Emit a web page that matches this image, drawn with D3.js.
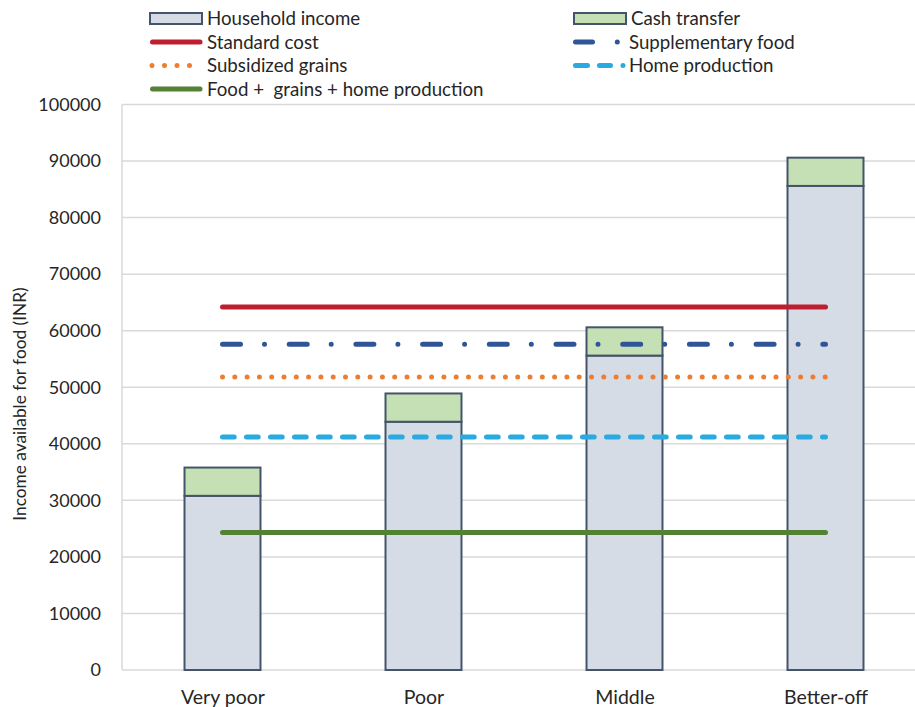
<!DOCTYPE html>
<html>
<head>
<meta charset="utf-8">
<script src="https://cdn.jsdelivr.net/npm/d3@7"></script>
<style>
  body { margin: 0; background: #fff; }
  svg { font-family: Lato, "Liberation Sans", sans-serif; }
  .tick text { fill: #262626; }
</style>
</head>
<body>
<svg id="chart" width="915" height="707"></svg>
<script>
// data
const categories = ["Very poor", "Poor", "Middle", "Better-off"];
const householdIncome = [30800, 43900, 55600, 85600];
const cashTransfer = [5000, 5000, 5000, 5000];

const standardCost = [64200, 64200, 64200, 64200];
const supplementaryFood = [57600, 57600, 57600, 57600];
const subsidizedGrains = [51800, 51800, 51800, 51800];
const homeProduction = [41200, 41200, 41200, 41200];
const foodGrainsHome = [24300, 24300, 24300, 24300];

const yTicks = d3.range(0, 100001, 10000);

const svg = d3.select("#chart");
const plot = { left: 122, right: 926, top: 104.5, bottom: 670 };

const x = d3.scalePoint().domain(categories).range([plot.left, plot.right]).padding(0.5);
const y = d3.scaleLinear().domain([0, 100000]).range([plot.bottom, plot.top]);
const barW = x.step() * 0.378;

// grid
svg.append("g").selectAll("line").data(yTicks).join("line")
    .attr("x1", plot.left).attr("x2", 915)
    .attr("y1", d => y(d)).attr("y2", d => y(d))
    .attr("stroke", "#d9d9d9").attr("stroke-width", 1.5);
svg.append("line")
    .attr("x1", plot.left).attr("x2", plot.left).attr("y1", plot.top).attr("y2", plot.bottom)
    .attr("stroke", "#d9d9d9").attr("stroke-width", 1.5);

// y axis labels
const yAxis = svg.append("g").attr("transform", "translate(101,0)")
    .call(d3.axisLeft(y).tickValues(yTicks).tickSize(0).tickPadding(0).tickFormat(d3.format("d")));
yAxis.select(".domain").remove();
yAxis.selectAll("text").attr("font-size", 18).attr("font-family", "Lato, sans-serif");

svg.append("text")
    .attr("transform", "translate(26," + 404 + ") rotate(-90)")
    .attr("text-anchor", "middle")
    .attr("font-size", 17.3).attr("fill", "#262626")
    .text("Income available for food (INR)");

// x axis labels
const xAxis = svg.append("g").attr("transform", "translate(0," + 704 + ")")
    .call(d3.axisBottom(x).tickSize(0).tickPadding(0));
xAxis.select(".domain").remove();
xAxis.selectAll("text").attr("font-size", 19.5).attr("font-family", "Lato, sans-serif").attr("dy", null);

// bars
const bars = svg.append("g");
bars.selectAll(".income").data(categories).join("rect")
    .attr("class", "income")
    .attr("x", d => x(d) - barW / 2).attr("width", barW)
    .attr("y", (d, i) => y(householdIncome[i]))
    .attr("height", (d, i) => y(0) - y(householdIncome[i]))
    .attr("fill", "#d6dce5").attr("stroke", "#44546a").attr("stroke-width", 2);
bars.selectAll(".cash").data(categories).join("rect")
    .attr("class", "cash")
    .attr("x", d => x(d) - barW / 2).attr("width", barW)
    .attr("y", (d, i) => y(householdIncome[i] + cashTransfer[i]))
    .attr("height", (d, i) => y(householdIncome[i]) - y(householdIncome[i] + cashTransfer[i]))
    .attr("fill", "#c5e0b4").attr("stroke", "#44546a").attr("stroke-width", 2);

// reference lines
const lineSeries = [
    { name: "Standard cost", values: standardCost, color: "#be1e2d", dash: null },
    { name: "Supplementary food", values: supplementaryFood, color: "#2f5597", dash: "18,24,0,24.7" },
    { name: "Subsidized grains", values: subsidizedGrains, color: "#ed7d31", dash: "0,12.3" },
    { name: "Home production", values: homeProduction, color: "#29abe2", dash: "11.7,12.3" },
    { name: "Food +  grains + home production", values: foodGrainsHome, color: "#548235", dash: null }
];

const line = d3.line().x(d => x(d.cat)).y(d => y(d.v));
svg.append("g").selectAll("path").data(lineSeries).join("path")
    .attr("d", s => line(categories.map((c, i) => ({ cat: c, v: s.values[i] }))))
    .attr("fill", "none")
    .attr("stroke", s => s.color)
    .attr("stroke-width", 5)
    .attr("stroke-linecap", "round")
    .attr("stroke-dasharray", s => s.dash);

// legend
const lg = svg.append("g").attr("font-size", 18.7).attr("fill", "#262626");
function legendText(tx, ty, label) {
    lg.append("text").attr("x", tx).attr("y", ty).attr("dy", "0.35em").style("white-space", "pre").text(label);
}
function legendBox(bx, by, fill, label) {
    lg.append("rect").attr("x", bx).attr("y", by - 5.5).attr("width", 52).attr("height", 11)
        .attr("fill", fill).attr("stroke", "#44546a").attr("stroke-width", 2);
    legendText(bx + 57, by, label);
}
function legendLine(bx, by, s, x1, x2) {
    lg.append("line").attr("x1", x1).attr("x2", x2).attr("y1", by).attr("y2", by)
        .attr("stroke", s.color).attr("stroke-width", 5).attr("stroke-linecap", "round")
        .attr("stroke-dasharray", s.dash);
    legendText(bx + 57, by, s.name);
}
legendBox(150, 18.5, "#d6dce5", "Household income");
legendBox(574, 18.5, "#c5e0b4", "Cash transfer");
legendLine(150, 42, lineSeries[0], 152.5, 200);
legendLine(572, 42, { name: lineSeries[1].name, color: lineSeries[1].color, dash: "17,24.8,0,30" }, 575.5, 619);
legendLine(150, 65.5, { name: lineSeries[2].name, color: lineSeries[2].color, dash: "0,12.5" }, 152, 191);
legendLine(572, 65.5, { name: lineSeries[3].name, color: lineSeries[3].color, dash: "12,12,11,12.5,0,30" }, 575.5, 625);
legendLine(150, 89, lineSeries[4], 152.5, 200);
</script>
</body>
</html>
